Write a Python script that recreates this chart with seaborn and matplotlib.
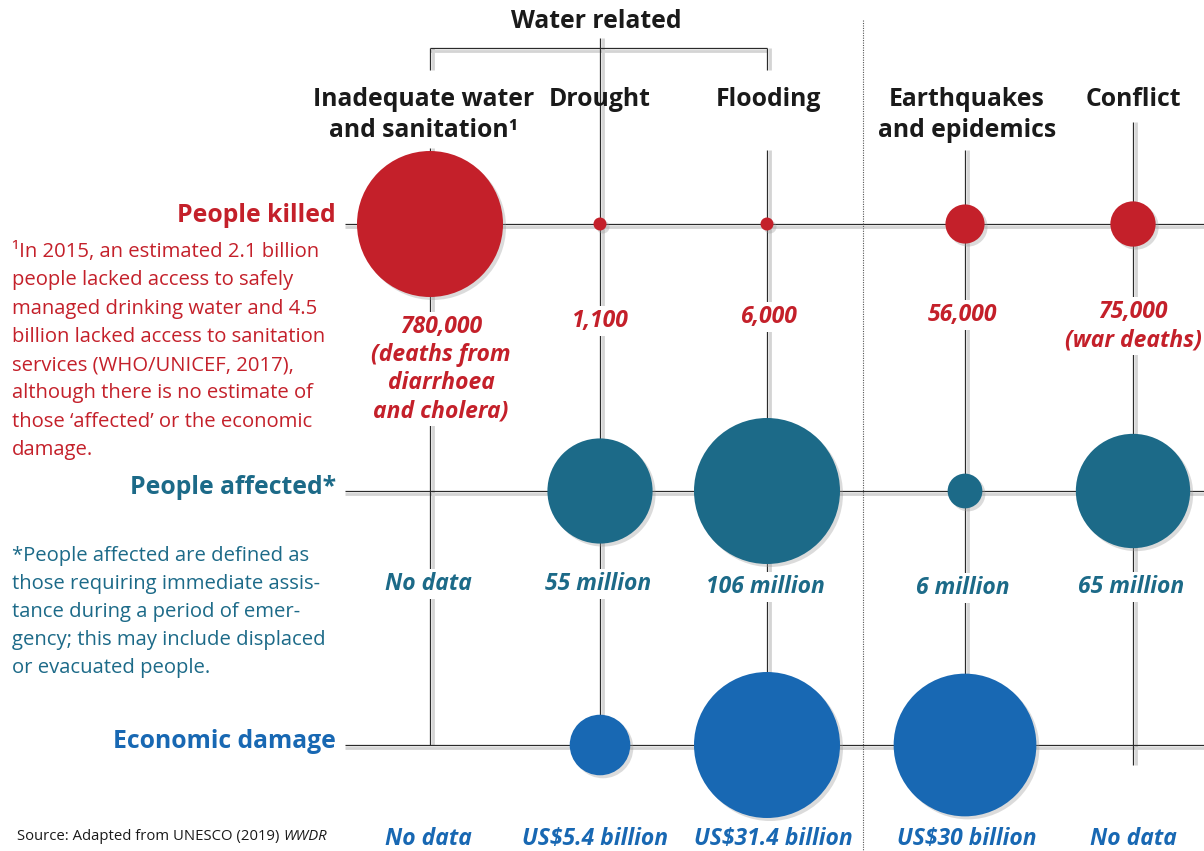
import numpy as np
import pandas as pd
import matplotlib.pyplot as plt
import seaborn as sns

# Chart data
categories = ["Inadequate water\nand sanitation\u00b9", "Drought", "Flooding",
              "Earthquakes\nand epidemics", "Conflict"]
rows = ["People killed", "People affected*", "Economic damage"]

killed = [780000, 1100, 6000, 56000, 75000]
affected_million = [np.nan, 55, 106, 6, 65]
damage_billion = [np.nan, 5.4, 31.4, 30, np.nan]

killed_labels = ["780,000\n(deaths from\ndiarrhoea\nand cholera)", "1,100", "6,000",
                 "56,000", "75,000\n(war deaths)"]
affected_labels = ["No data", "55 million", "106 million", "6 million", "65 million"]
damage_labels = ["No data", "US\\$5.4 billion", "US\\$31.4 billion", "US\\$30 billion", "No data"]

note_killed = ("\u00b9In 2015, an estimated 2.1 billion\npeople lacked access to safely\n"
               "managed drinking water and 4.5\nbillion lacked access to sanitation\n"
               "services (WHO/UNICEF, 2017),\nalthough there is no estimate of\n"
               "those \u2018affected\u2019 or the economic\ndamage.")
note_affected = ("*People affected are defined as\nthose requiring immediate assis-\n"
                 "tance during a period of emer-\ngency; this may include displaced\n"
                 "or evacuated people.")

# Layout (pixel space)
col_x = [430, 600, 767, 965, 1133]
row_y = [224, 491, 745]
red, teal, blue = "#C4202A", "#1C6A88", "#1868B3"
row_colors = [red, teal, blue]
max_r = 73
min_r = 6.5

sns.set_theme(style="white")
plt.rcParams['font.family'] = ['Open Sans', 'DejaVu Sans']

# one dataframe for the bubbles
recs = []
for ri, vals in enumerate([killed, affected_million, damage_billion]):
    vmax = np.nanmax(vals)
    for ci, v in enumerate(vals):
        if np.isnan(v):
            continue
        r = max(max_r * np.sqrt(v / vmax), min_r)
        recs.append({"row": rows[ri], "cat": categories[ci], "x": col_x[ci],
                     "y": row_y[ri], "area": (2 * r * 0.72) ** 2})
df = pd.DataFrame(recs)

fig = plt.figure(figsize=(12.04, 8.51), dpi=100)
ax = fig.add_axes([0, 0, 1, 1])

line_c = "#2b2b2b"
shadow_c = "#d4d4d4"


def hline(x0, x1, y):
    ax.plot([x0, x1], [y + 2.5, y + 2.5], color=shadow_c, lw=2, zorder=1, solid_capstyle='butt')
    ax.plot([x0, x1], [y, y], color=line_c, lw=0.9, zorder=2, solid_capstyle='butt')


def vline(x, y0, y1):
    ax.plot([x + 2.5, x + 2.5], [y0, y1], color=shadow_c, lw=2, zorder=1, solid_capstyle='butt')
    ax.plot([x, x], [y0, y1], color=line_c, lw=0.9, zorder=2, solid_capstyle='butt')


# grid lines
for y in row_y:
    hline(345, 1204, y)
vline(col_x[0], 148, 745)
vline(col_x[1], 38, 745)
vline(col_x[2], 150, 800)
vline(col_x[3], 150, 800)
vline(col_x[4], 122, 765)

# bracket for "Water related"
hline(col_x[0], col_x[2], 48)
vline(col_x[0], 48, 70)
vline(col_x[2], 48, 70)

# dotted separator
ax.plot([863, 863], [20, 851], color="#555555", lw=0.8, linestyle=(0, (1, 1.2)), zorder=2)

# bubble shadows then bubbles
shadow = df.copy()
shadow["x"] = shadow["x"] + 3
shadow["y"] = shadow["y"] + 3
size_lim = (0, df["area"].max())
sns.scatterplot(data=shadow, x="x", y="y", size="area", sizes=size_lim, size_norm=size_lim,
                color="#9a9a9a", alpha=0.35, linewidth=0, legend=False, ax=ax, zorder=3)
sns.scatterplot(data=df, x="x", y="y", hue="row", palette=dict(zip(rows, row_colors)),
                size="area", sizes=size_lim, size_norm=size_lim,
                linewidth=0, alpha=1, legend=False, ax=ax, zorder=4)
ax.set_xlim(0, 1204)
ax.set_ylim(851, 0)
ax.axis('off')

# headers
hdr = dict(fontsize=17.8, fontweight='bold', color="#1a1a1a", ha='center', zorder=5)
ax.text(596, 21, "Water related", va='center', **hdr)
head_y = [115, 99, 99, 115, 99]
head_dx = [-6, 0, 1, 2, 0]
for ci, name in enumerate(categories):
    ax.text(col_x[ci] + head_dx[ci], head_y[ci], name, va='center', linespacing=1.35, **hdr)

# row labels
for ri, name in enumerate(rows):
    ax.text(336, row_y[ri] - 8 if ri == 0 else row_y[ri] - 3, name, ha='right', va='center',
            fontsize=17.8, fontweight='bold', color=row_colors[ri], zorder=5)

# value labels
box = dict(facecolor='white', edgecolor='none', pad=2)
val = dict(fontsize=16.5, fontweight='bold', fontstyle='italic', ha='center', va='center',
           linespacing=1.24, zorder=5, bbox=box)
killed_pos = [(441, 369), (600, 321), (768, 317), (962, 315), (1133, 326)]
for (x, y), lab in zip(killed_pos, killed_labels):
    ax.text(x, y, lab, color=red, **val)
affected_y = [584, 584, 587, 588, 587]
for ci, lab in enumerate(affected_labels):
    ax.text(col_x[ci] - 2, affected_y[ci], lab, color=teal, **val)
damage_dx = [-2, -5, 6, 2, 0]
for ci, lab in enumerate(damage_labels):
    ax.text(col_x[ci] + damage_dx[ci], 839, lab, color=blue, **val)

# notes
ax.text(12, 351, note_killed, ha='left', va='center', fontsize=14.6, color=red,
        linespacing=1.55, zorder=5)
ax.text(12, 612, note_affected, ha='left', va='center', fontsize=14.6, color=teal,
        linespacing=1.55, zorder=5)

src = ax.text(17, 836, "Source: Adapted from UNESCO (2019) ", ha='left', va='center',
              fontsize=10.7, color="#1a1a1a", zorder=5)
ax.annotate("WWDR", xy=(1, 0.5), xycoords=src, ha='left', va='center', fontsize=10.7,
            fontstyle='italic', color="#1a1a1a", zorder=5)

fig.savefig("out.png", dpi=100)
